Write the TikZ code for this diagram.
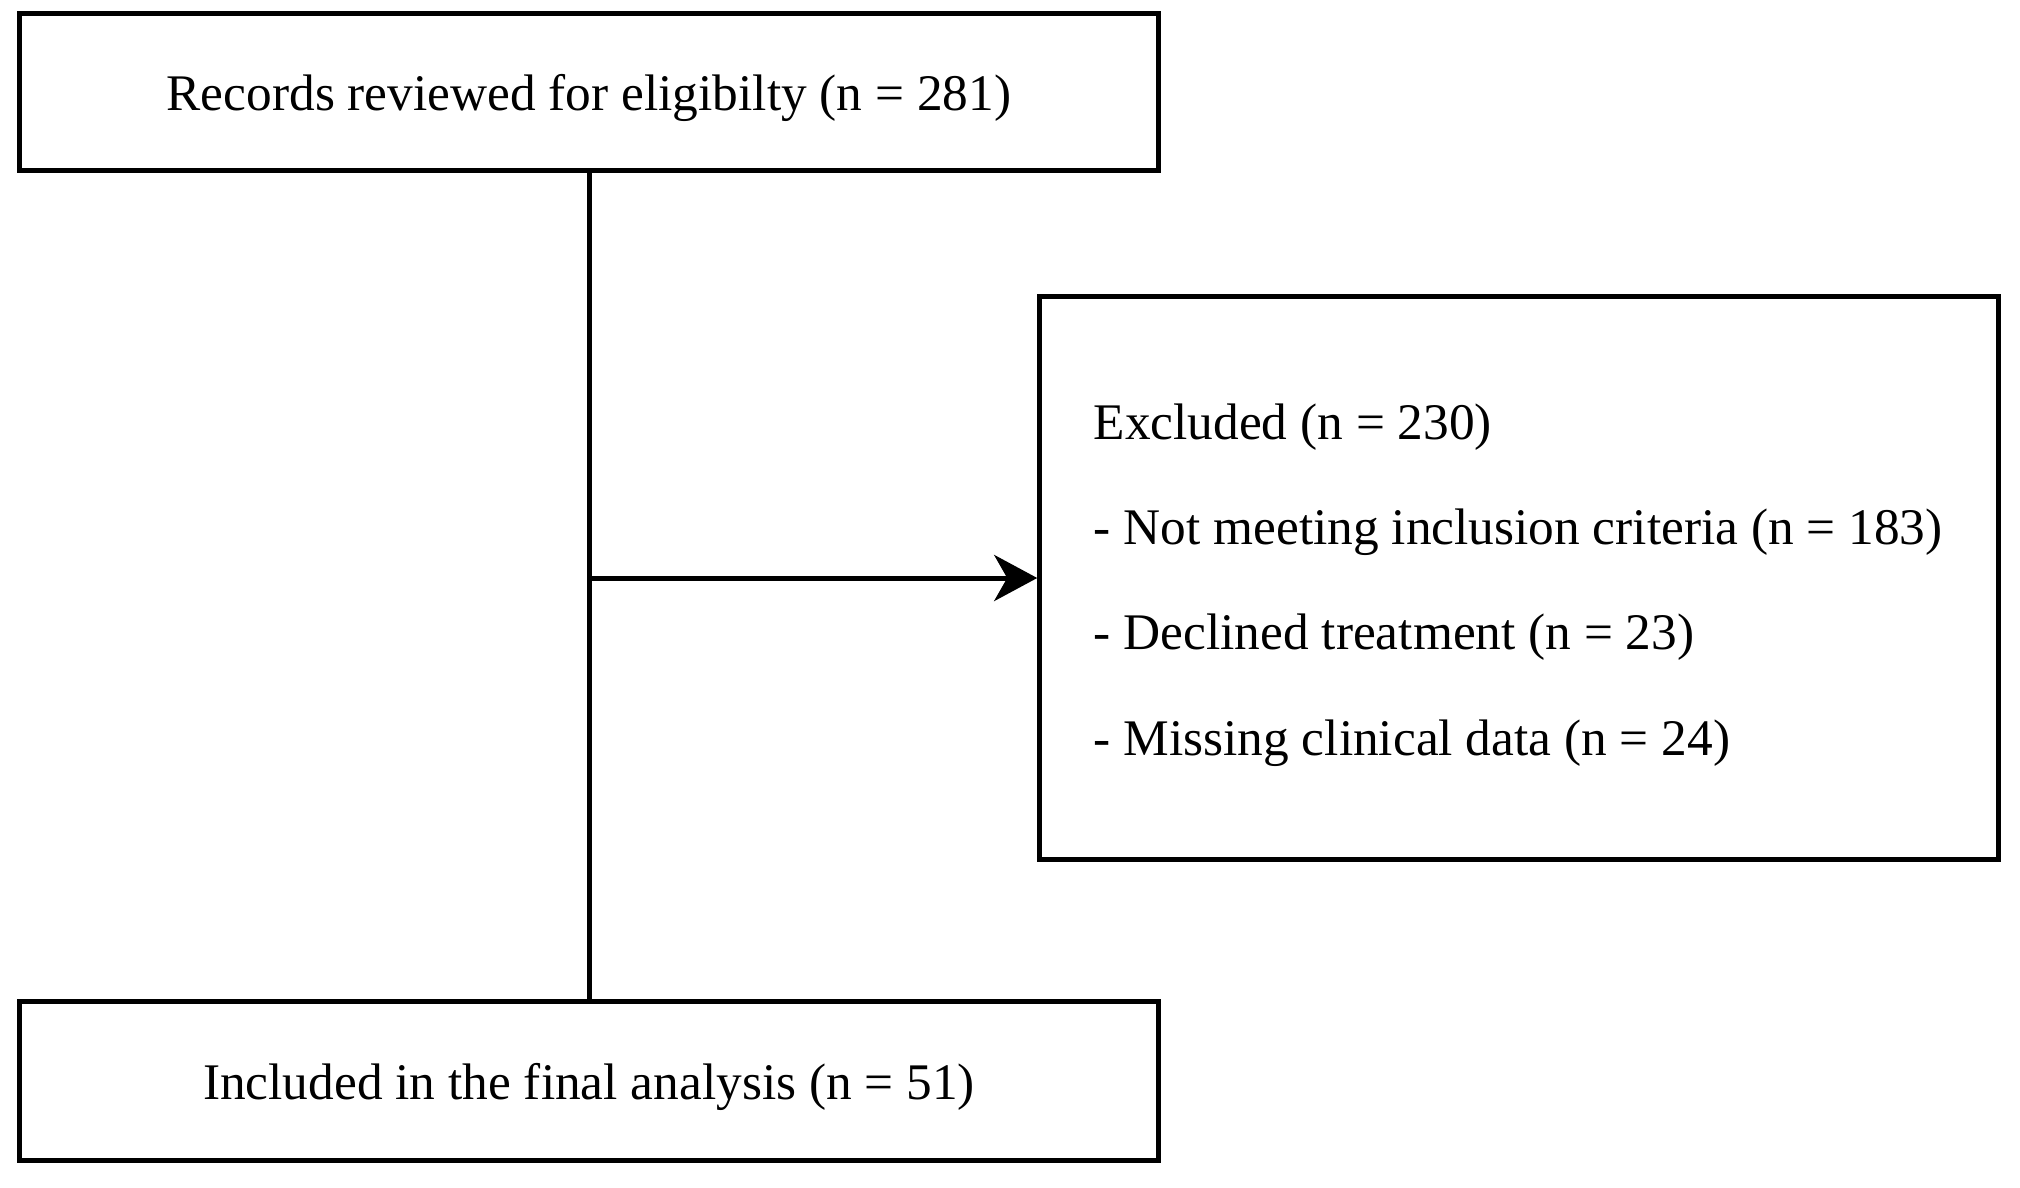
\documentclass[tikz,border=0pt]{standalone}
\usepackage{fontspec}
\setmainfont{Liberation Serif}
\usepackage{tikz}
\usetikzlibrary{arrows.meta}
\usetikzlibrary{positioning}

\begin{document}
\begin{tikzpicture}[x=0.01cm, y=-0.01cm, font=\fontsize{14.6pt}{29.9pt}\selectfont]
		\useasboundingbox (0,0) rectangle (2020,1187);
		\begin{scope}[every node/.style = {rectangle, draw, line width=0.05cm, inner sep=0pt, text depth=0pt}]
			\node[minimum width=11.375cm, minimum height=1.57cm] (R) at (589,92) {Records reviewed for eligibilty (n = 281)};
			\node[minimum width=9.58cm, minimum height=5.635cm] (X) at (1519,578) {};
			\node[minimum width=11.375cm, minimum height=1.595cm] (I) at (589,1081) {Included in the final analysis (n = 51)};
		\end{scope}
		\node[anchor=west, align=left, inner sep=0pt] (L) at (1093,585) {Excluded (n = 230)\\- Not meeting inclusion criteria (n = 183)\\- Declined treatment (n = 23)\\- Missing clinical data (n = 24)};
		\coordinate (M) at (R.south |- X.west);
		\begin{scope}[line width=0.05cm, >={Stealth[black, length=0.43cm, width=0.46cm, inset=0.13cm]}]
			\path[-] (R) edge (I);
			\path[->] (M) edge (X.west);
		\end{scope}
	\end{tikzpicture}
\end{document}
